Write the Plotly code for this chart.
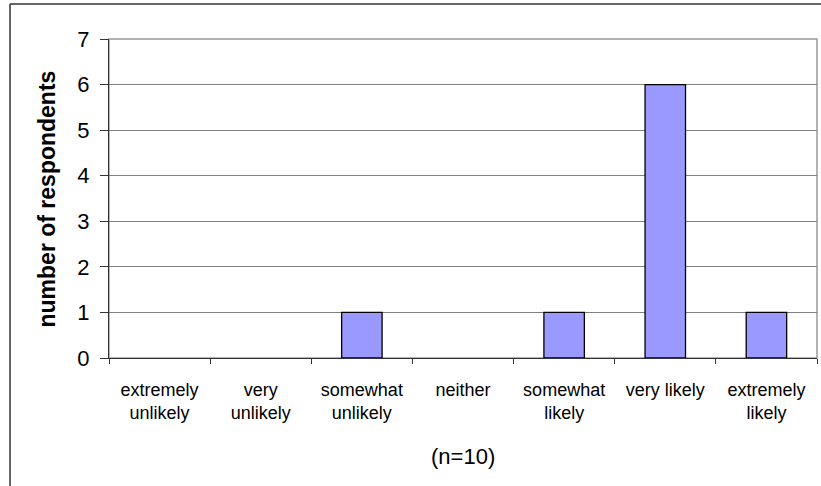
import plotly.graph_objects as go

# Survey responses: likelihood rating counts
categories = [
    "extremely<br>unlikely",
    "very<br>unlikely",
    "somewhat<br>unlikely",
    "neither",
    "somewhat<br>likely",
    "very likely",
    "extremely<br>likely",
]
respondents = [0, 0, 1, 0, 1, 6, 1]
y_ticks = [0, 1, 2, 3, 4, 5, 6, 7]
sample_note = "(n=10)"
y_title = "number of respondents"

FONT = "Liberation Sans, Arial, sans-serif"

# empty categories get no outline so nothing is drawn for them
outline_widths = [1.3 if v > 0 else 0 for v in respondents]

fig = go.Figure(
    go.Bar(
        x=categories,
        y=respondents,
        marker=dict(color="#9999FF", line=dict(color="#000000", width=outline_widths)),
        hoverinfo="x+y",
    )
)

fig.update_layout(
    width=821,
    height=486,
    margin=dict(l=109, r=4, t=39, b=128),
    paper_bgcolor="white",
    plot_bgcolor="white",
    bargap=0.6,
    showlegend=False,
    font=dict(family=FONT, color="black"),
    xaxis=dict(
        type="category",
        tickson="boundaries",
        ticks="outside",
        ticklen=5,
        tickwidth=1,
        tickcolor="#333333",
        showline=True,
        linecolor="#333333",
        linewidth=1.3,
        showgrid=False,
        ticklabelstandoff=15,
        tickfont=dict(size=18, family=FONT, color="black"),
    ),
    yaxis=dict(
        range=[0, 7],
        tickvals=y_ticks,
        ticks="outside",
        ticklen=8,
        tickwidth=1,
        tickcolor="#333333",
        showline=True,
        linecolor="#333333",
        linewidth=1.3,
        showgrid=True,
        gridcolor="#808080",
        gridwidth=1,
        zeroline=False,
        ticklabelstandoff=6,
        tickfont=dict(size=22, family=FONT, color="black"),
    ),
    shapes=[
        # plot-area frame
        dict(type="rect", xref="paper", yref="paper", x0=0, y0=0, x1=1, y1=1,
             line=dict(color="#999999", width=1.5), layer="below"),
        # chart border (top and left edges)
        dict(type="line", xref="paper", yref="paper", x0=-0.14, x1=1.02,
             y0=1.1097, y1=1.1097, line=dict(color="#333333", width=1.5)),
        dict(type="line", xref="paper", yref="paper", x0=-0.1398, x1=-0.1398,
             y0=1.1097, y1=-0.42, line=dict(color="#333333", width=1.5)),
    ],
    annotations=[
        dict(text=y_title, textangle=-90, xref="paper", yref="paper",
             x=-0.0876, y=0.5, xanchor="center", yanchor="middle", showarrow=False,
             font=dict(size=23, family=FONT, color="black", weight="bold")),
        dict(text=sample_note, xref="paper", yref="paper",
             x=0.5, y=-0.31, xanchor="center", yanchor="middle", showarrow=False,
             font=dict(size=22, family=FONT, color="black")),
    ],
)

fig.write_html("out.html")
